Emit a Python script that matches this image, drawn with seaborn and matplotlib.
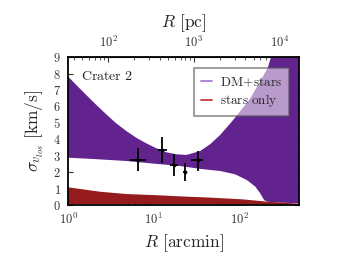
import numpy as np
import matplotlib
matplotlib.use("Agg")
import matplotlib.pyplot as plt
import seaborn as sns
from matplotlib.lines import Line2D

# ---- data ----
R_dm_up = [1, 1.24, 1.62, 2.13, 2.78, 3.64, 4.77, 6.24, 8.17, 10.7, 14.0, 18.3, 24.0,
           26.7, 35, 45.7, 60, 82, 108, 135, 215, 235, 300, 500]
dm_up = [7.82, 7.32, 6.71, 6.1, 5.53, 4.98, 4.51, 4.1, 3.76, 3.46, 3.21, 3.09, 3.05,
         3.11, 3.29, 3.7, 4.27, 5.08, 5.85, 6.5, 8.33, 9.0, 10.5, 13.0]
R_dm_lo = [1, 2, 4.77, 10, 20, 35, 60, 89.5, 123, 154, 176, 195, 215, 300, 500]
dm_lo = [2.88, 2.8, 2.68, 2.52, 2.38, 2.2, 2.07, 1.87, 1.52, 1.12, 0.71, 0.3, 0.2, 0.15, 0.1]
R_st = [1, 2.37, 4.86, 11.9, 20, 43, 108, 218, 500]
st_up = [1.08, 0.81, 0.67, 0.59, 0.53, 0.46, 0.35, 0.2, 0.08]
st_lo = [0.06, 0.06, 0.06, 0.05, 0.05, 0.05, 0.04, 0.03, 0.02]

pts_R = [6.6, 12.6, 17.2, 23.2, 32.9]
pts_sig = [2.76, 3.33, 2.46, 2.03, 2.72]
pts_Rlo = [5.3, 11.1, 15.6, 21.8, 27.2]
pts_Rhi = [8.2, 14.3, 19.2, 24.8, 37.7]
pts_slo = [2.05, 2.56, 1.79, 1.48, 2.05]
pts_shi = [3.47, 4.13, 3.11, 2.56, 3.31]

yticks = [0, 1, 2, 3, 4, 5, 6, 7, 8, 9]
pc_per_arcmin = 34.0

purple = "#62238f"
red = "#961b1c"

sns.set_style("ticks")
plt.rcParams["mathtext.fontset"] = "cm"
plt.rcParams["font.family"] = ["DejaVu Serif"]

fig = plt.figure(figsize=(3.49, 2.56), dpi=100)
ax = fig.add_axes([0.195, 0.199, 0.662, 0.578])

# bands as closed polygons (upper edge then lower edge reversed)
ax.fill(np.r_[R_dm_up, R_dm_lo[::-1]], np.r_[dm_up, dm_lo[::-1]],
        color=purple, lw=0, zorder=1)
ax.fill(np.r_[R_st, R_st[::-1]], np.r_[st_up, st_lo[::-1]],
        color=red, lw=0, zorder=2)

xerr = [np.array(pts_R) - np.array(pts_Rlo), np.array(pts_Rhi) - np.array(pts_R)]
yerr = [np.array(pts_sig) - np.array(pts_slo), np.array(pts_shi) - np.array(pts_sig)]
ax.errorbar(pts_R, pts_sig, xerr=xerr, yerr=yerr, fmt="none", ecolor="black",
            elinewidth=1.3, capsize=0, zorder=5)
sns.scatterplot(x=pts_R, y=pts_sig, ax=ax, marker="o", s=6, color="black",
                edgecolor="black", zorder=6)

ax.set_xscale("log")
ax.set_xlim(1, 500)
ax.set_ylim(0, 9)
ax.set_yticks(yticks)
ax.set_yticklabels([r"$%d$" % v for v in yticks])
ax.set_xticks([1, 10, 100])
ax.set_xticklabels([r"$10^{0}$", r"$10^{1}$", r"$10^{2}$"])
ax.tick_params(axis="both", which="both", direction="in", top=False, right=True,
               labelsize=9, colors="#333333", labelcolor="#333333")
ax.tick_params(which="major", length=3.5, width=0.8)
ax.tick_params(which="minor", length=2, width=0.6)
ax.tick_params(axis="x", which="major", pad=5)
ax.tick_params(axis="y", which="major", pad=5)
for s in ax.spines.values():
    s.set_linewidth(1.3)
    s.set_color("black")

ax.set_xlabel(r"$R\ [\mathrm{arcmin}]$", fontsize=12.5, labelpad=4)
ax.set_ylabel(r"$\sigma_{v_{los}}\ [\mathrm{km/s}]$", fontsize=12.5, labelpad=5)

sec = ax.secondary_xaxis("top", functions=(lambda x: x * pc_per_arcmin,
                                            lambda x: x / pc_per_arcmin))
sec.set_xticks([100, 1000, 10000])
sec.set_xticklabels([r"$10^{2}$", r"$10^{3}$", r"$10^{4}$"])
sec.tick_params(axis="x", which="both", direction="in", labelsize=9,
                colors="#333333", labelcolor="#333333")
sec.tick_params(which="major", length=3.5, width=0.8, pad=5)
sec.tick_params(which="minor", length=2, width=0.6)
sec.set_xlabel(r"$R\ [\mathrm{pc}]$", fontsize=12.5, labelpad=6)

ax.text(1.4, 7.85, r"$\mathrm{Crater\ 2}$", fontsize=10, va="center", ha="left", zorder=7)

handles = [Line2D([], [], color="#a27fd0", lw=1.3), Line2D([], [], color="#c8383a", lw=1.3)]
leg = ax.legend(handles, [r"$\mathrm{DM\!+\!stars}$", r"$\mathrm{stars\ only}$"],
                loc="upper right", bbox_to_anchor=(0.957, 0.926), borderaxespad=0,
                fontsize=9.5, frameon=True, fancybox=False, borderpad=0.55,
                handlelength=0.85, handletextpad=0.6, labelspacing=0.25)
leg.get_frame().set_edgecolor("#555555")
leg.get_frame().set_linewidth(1.5)
leg.get_frame().set_facecolor("white")
leg.get_frame().set_alpha(0.55)
leg.set_zorder(10)

fig.savefig("out.png", dpi=100)
